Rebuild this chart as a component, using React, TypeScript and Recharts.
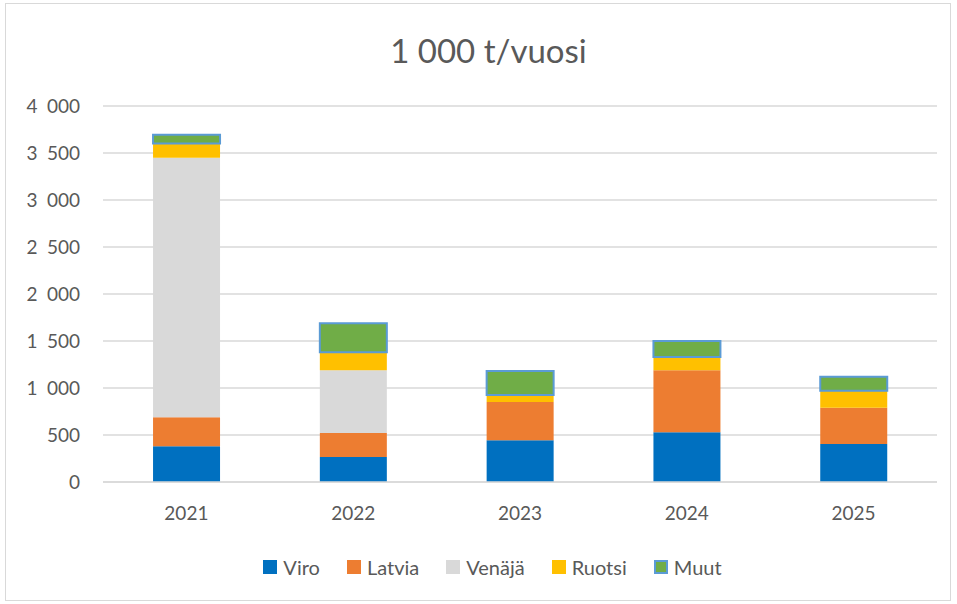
import { Bar, BarChart, CartesianGrid, XAxis, YAxis } from "recharts";

const years = ["2021", "2022", "2023", "2024", "2025"];
const viro = [380, 265, 445, 530, 405];
const latvia = [310, 255, 405, 660, 385];
const venaja = [2760, 670, 0, 0, 0];
const ruotsi = [150, 190, 75, 140, 180];
const muut = [95, 310, 255, 170, 150];
const yTicks = [0, 500, 1000, 1500, 2000, 2500, 3000, 3500, 4000];

const series = [
	{ key: "viro", name: "Viro", color: "#0070C0" },
	{ key: "latvia", name: "Latvia", color: "#ED7D31" },
	{ key: "venaja", name: "Venäjä", color: "#D9D9D9" },
	{ key: "ruotsi", name: "Ruotsi", color: "#FFC000" },
	{ key: "muut", name: "Muut", color: "#70AD47" },
];

const data = years.map((year, i) => ({
	year,
	viro: viro[i],
	latvia: latvia[i],
	venaja: venaja[i],
	ruotsi: ruotsi[i],
	muut: muut[i],
}));

const font = "Lato, 'Open Sans', sans-serif";
const textColor = "#595959";

// thousands separated by an en space, like the original sheet
const fmt = (v: number) =>
	v >= 1000 ? `${Math.floor(v / 1000)}\u2002${String(v % 1000).padStart(3, "0")}` : String(v);

export default function App() {
	return (
		<div
			style={{
				position: "absolute",
				left: 0,
				top: 0,
				width: 957,
				height: 604,
				background: "white",
				fontFamily: font,
			}}
		>
			<div
				style={{
					position: "absolute",
					left: 5,
					top: 3,
					width: 944,
					height: 596,
					border: "1px solid #d9d9d9",
				}}
			/>
			<div
				style={{
					position: "absolute",
					top: 30,
					left: 20,
					width: 937,
					textAlign: "center",
					fontSize: 33,
					color: textColor,
				}}
			>
				1 000 t/vuosi
			</div>
			<BarChart
				width={957}
				height={604}
				data={data}
				margin={{ top: 106, right: 20, bottom: 82, left: 0 }}
				barCategoryGap="30%"
			>
				<CartesianGrid vertical={false} stroke="#d9d9d9" strokeWidth={1.5} />
				<XAxis
					dataKey="year"
					height={40}
					tickLine={false}
					stroke="#d9d9d9"
					strokeWidth={1.5}
					tick={{ fill: textColor, fontSize: 19, fontFamily: font }}
					tickMargin={19}
				/>
				<YAxis
					width={103}
					domain={[0, 4000]}
					ticks={yTicks}
					tickFormatter={fmt}
					axisLine={false}
					tickLine={false}
					tickMargin={17}
					tick={{ fill: textColor, fontSize: 19, fontFamily: font }}
				/>
				{series.map((s) => (
					<Bar
						key={s.key}
						dataKey={s.key}
						name={s.name}
						stackId="a"
						fill={s.color}
						stroke={s.key === "muut" ? "#5B9BD5" : undefined}
						strokeWidth={s.key === "muut" ? 2 : 0}
						isAnimationActive={false}
					/>
				))}
			</BarChart>
			<div
				style={{
					position: "absolute",
					top: 555,
					left: 28,
					width: 929,
					display: "flex",
					justifyContent: "center",
					gap: 27,
					fontSize: 20,
					color: textColor,
				}}
			>
				{series.map((s) => (
					<div key={s.key} style={{ display: "flex", alignItems: "center", gap: 6 }}>
						<span
							style={{
								display: "inline-block",
								width: 14,
								height: 14,
								background: s.color,
								boxSizing: "border-box",
								border: s.key === "muut" ? "2px solid #5B9BD5" : "none",
							}}
						/>
						{s.name}
					</div>
				))}
			</div>
		</div>
	);
}
